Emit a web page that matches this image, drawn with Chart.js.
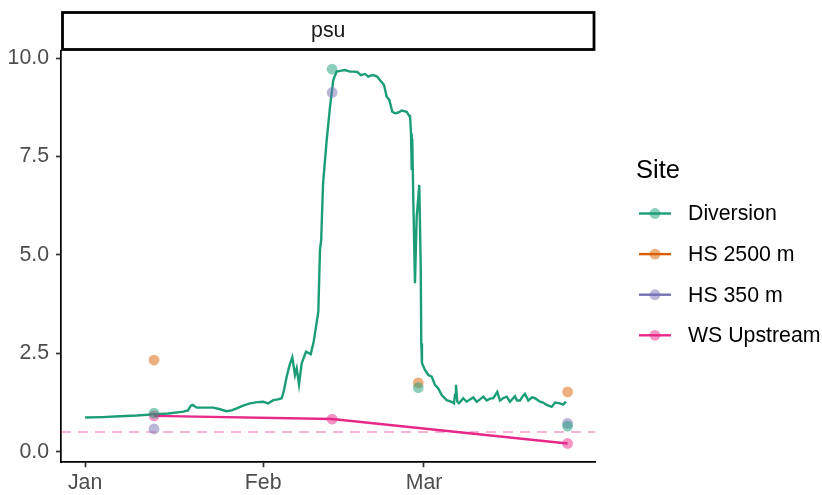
<!DOCTYPE html>
<html>
<head>
<meta charset="utf-8">
<script src="https://cdn.jsdelivr.net/npm/chart.js@4.4.1/dist/chart.umd.min.js"></script>
<style>
  html, body { margin: 0; padding: 0; background: #ffffff; }
  #wrap { width: 822px; height: 495px; position: relative; }
</style>
</head>
<body>
<div id="wrap"><canvas id="c" width="822" height="495"></canvas></div>
<script>
// Continuous salinity record (psu) at the Diversion sonde; x = days since 1 Jan
const divDay = [
  0.00, 3.00, 6.08, 9.00, 11.87, 14.50, 17.10, 17.91, 18.40, 18.73, 19.43, 20.87, 22.32, 23.50,
  24.65, 25.50, 26.39, 27.50, 28.71, 30.00, 31.02, 31.89, 32.76, 33.60, 34.22, 34.60, 35.10, 35.60,
  36.07, 36.54, 36.84, 37.24, 37.71, 38.46, 39.28, 39.80, 40.20, 40.60, 40.89, 41.10, 41.42, 42.06,
  42.64, 43.21, 43.80, 44.38, 45.25, 46.12, 46.80, 47.39, 47.98, 48.73, 49.30, 49.90, 50.40, 50.87,
  51.64, 52.04, 52.51, 52.96, 53.48, 53.95, 54.53, 55.12, 55.99, 56.44, 56.56, 56.74, 56.86, 56.96,
  57.14, 57.43, 57.73, 58.18, 58.43, 58.53, 58.65, 59.17, 59.75, 60.34, 60.91, 61.49, 62.08, 62.95,
  63.82, 64.22, 64.40, 64.57, 64.80, 65.09, 65.84, 66.43, 67.01, 67.58, 68.18, 68.75, 69.32, 69.92,
  70.49, 71.07, 71.76, 72.23, 72.75, 73.40, 73.97, 74.84, 75.19, 75.71, 76.24, 76.58, 77.16, 77.80,
  78.33, 79.20, 79.72, 80.36, 81.23, 81.81, 82.68, 83.20, 83.72
];
const divPsu = [
  0.87, 0.88, 0.90, 0.92, 0.95, 0.97, 1.02, 1.05, 1.17, 1.19, 1.12, 1.12, 1.12, 1.08,
  1.03, 1.05, 1.10, 1.17, 1.23, 1.26, 1.27, 1.23, 1.31, 1.33, 1.36, 1.55, 1.91, 2.20,
  2.40, 1.95, 2.12, 1.71, 2.25, 2.54, 2.48, 2.80, 3.18, 3.56, 5.13, 5.38, 6.80, 7.92,
  8.77, 9.45, 9.66, 9.68, 9.70, 9.66, 9.66, 9.65, 9.57, 9.60, 9.53, 9.57, 9.56, 9.53,
  9.39, 9.32, 9.02, 8.94, 8.64, 8.60, 8.62, 8.67, 8.64, 8.53, 8.56, 8.09, 7.16, 7.96,
  6.39, 4.28, 5.97, 6.78, 4.70, 2.75, 2.25, 2.08, 1.95, 1.91, 1.70, 1.61, 1.44, 1.31,
  1.27, 1.23, 1.45, 1.70, 1.27, 1.23, 1.36, 1.27, 1.33, 1.38, 1.27, 1.33, 1.40, 1.30,
  1.35, 1.36, 1.52, 1.30, 1.36, 1.40, 1.27, 1.41, 1.30, 1.30, 1.42, 1.47, 1.30, 1.38,
  1.36, 1.27, 1.25, 1.19, 1.14, 1.25, 1.23, 1.20, 1.27
];

// Grab samples (psu) by site; null = no sample that day
const sampleDays     = [12, 43, 58, 84];
const diversionGrab  = [0.98, 9.72, 1.63, 0.65];
const hs2500Grab     = [2.33, null, 1.75, 1.52];
const hs350Grab      = [0.58, 9.13, null, 0.72];
const wsUpstreamGrab = [0.91, 0.83, null, 0.21];

// Reference salinity level
const threshold = 0.5;

// Axis ticks
const monthTicks  = [0, 31, 59];
const monthLabels = ['Jan', 'Feb', 'Mar'];
const psuTicks    = [0, 2.5, 5, 7.5, 10];

const siteNames  = ['Diversion', 'HS 2500 m', 'HS 350 m', 'WS Upstream'];
const siteColors = ['#1B9E77', '#D95F02', '#7570B3', '#E7298A'];
const panelTitle = 'psu';

const FONT = '"Liberation Sans", Arial, Helvetica, sans-serif';
const TXT = 21.3;
const X_MIN = -4.2, X_MAX = 88.86;
const Y_MIN = -0.266, Y_MAX = 10.196;

function alpha(hex, a) {
  const n = parseInt(hex.slice(1), 16);
  return `rgba(${(n >> 16) & 255},${(n >> 8) & 255},${n & 255},${a})`;
}
function pairs(xs, ys) {
  const out = [];
  xs.forEach((x, i) => { if (ys[i] !== null) out.push({ x: x, y: ys[i] }); });
  return out;
}

const grabSeries = [diversionGrab, hs2500Grab, hs350Grab, wsUpstreamGrab];
const pointSets = grabSeries.map((vals, i) => ({
  label: siteNames[i] + ' samples',
  data: pairs(sampleDays, vals),
  showLine: false,
  pointRadius: 5.4,
  pointHoverRadius: 5.4,
  pointBorderWidth: 0,
  pointBackgroundColor: alpha(siteColors[i], 0.5),
  order: 1
}));

// Facet strip above the panel and the "Site" key to the right
const facetAndKey = {
  id: 'facetAndKey',
  afterDraw(chart) {
    const c = chart.ctx;
    const a = chart.chartArea;
    c.save();
    // strip
    c.fillStyle = '#ffffff';
    c.fillRect(a.left + 1, 12, a.right - a.left - 1.5, 37.5);
    c.strokeStyle = '#000000';
    c.lineWidth = 2.8;
    c.strokeRect(a.left + 1.5, 12.5, a.right - a.left - 3, 37);
    c.fillStyle = '#1A1A1A';
    c.font = TXT + 'px ' + FONT;
    c.textAlign = 'center';
    c.textBaseline = 'middle';
    c.fillText(panelTitle, (a.left + a.right) / 2, 31.5);

    // key
    c.textAlign = 'left';
    c.fillStyle = '#000000';
    c.font = '25.5px ' + FONT;
    c.fillText('Site', 636, 171);
    c.font = TXT + 'px ' + FONT;
    siteNames.forEach((name, i) => {
      const y = 213.5 + i * 40.6;
      c.strokeStyle = siteColors[i];
      c.lineWidth = 2.4;
      c.beginPath();
      c.moveTo(639, y);
      c.lineTo(671, y);
      c.stroke();
      c.fillStyle = alpha(siteColors[i], 0.5);
      c.beginPath();
      c.arc(655, y, 5.4, 0, Math.PI * 2);
      c.fill();
      c.fillStyle = '#000000';
      c.fillText(name, 688, y + 1);
    });
    c.restore();
  }
};

new Chart(document.getElementById('c'), {
  type: 'scatter',
  data: {
    datasets: [
      {
        label: 'threshold',
        data: [{ x: X_MIN, y: threshold }, { x: X_MAX, y: threshold }],
        showLine: true,
        borderColor: alpha(siteColors[3], 0.35),
        borderWidth: 2,
        borderDash: [10, 7],
        pointRadius: 0,
        order: 5
      },
      {
        label: siteNames[0],
        data: pairs(divDay, divPsu),
        showLine: true,
        borderColor: siteColors[0],
        borderWidth: 2.4,
        pointRadius: 0,
        tension: 0,
        order: 4
      },
      {
        label: siteNames[3],
        data: pairs(sampleDays, wsUpstreamGrab),
        showLine: true,
        borderColor: siteColors[3],
        borderWidth: 2.4,
        pointRadius: 0,
        tension: 0,
        order: 3
      },
      ...pointSets
    ]
  },
  options: {
    responsive: false,
    devicePixelRatio: 1,
    animation: false,
    events: [],
    layout: { padding: { top: 50.5, right: 226.5, left: 0, bottom: 0 } },
    plugins: { legend: { display: false }, tooltip: { enabled: false } },
    scales: {
      x: {
        type: 'linear',
        min: X_MIN,
        max: X_MAX,
        afterBuildTicks: s => { s.ticks = monthTicks.map(v => ({ value: v })); },
        afterFit: s => { s.height = 32.8; },
        ticks: {
          autoSkip: false,
          maxRotation: 0,
          padding: 3,
          color: '#4D4D4D',
          font: { family: FONT, size: TXT },
          callback: v => monthLabels[monthTicks.indexOf(v)]
        },
        grid: { drawOnChartArea: false, drawTicks: true, tickLength: 5, tickColor: '#333333', tickWidth: 1.7 },
        border: { display: true, color: '#000000', width: 1.7 }
      },
      y: {
        type: 'linear',
        min: Y_MIN,
        max: Y_MAX,
        afterBuildTicks: s => { s.ticks = psuTicks.map(v => ({ value: v })); },
        afterFit: s => { s.width = 61; },
        ticks: {
          padding: 7,
          color: '#4D4D4D',
          font: { family: FONT, size: TXT },
          callback: v => v.toFixed(1)
        },
        grid: { drawOnChartArea: false, drawTicks: true, tickLength: 5, tickColor: '#333333', tickWidth: 1.7 },
        border: { display: true, color: '#000000', width: 1.7 }
      }
    }
  },
  plugins: [facetAndKey]
});
</script>
</body>
</html>
